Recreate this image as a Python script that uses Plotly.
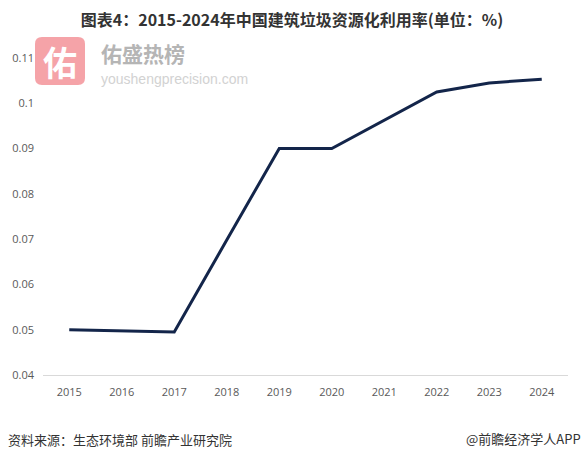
import plotly.graph_objects as go

years = ["2015", "2016", "2017", "2018", "2019", "2020", "2021", "2022", "2023", "2024"]
rates = [0.0500, 0.0498, 0.0495, 0.0698, 0.0900, 0.0900, 0.0962, 0.1025, 0.1045, 0.1053]
y_tickvals = [0.04, 0.05, 0.06, 0.07, 0.08, 0.09, 0.10, 0.11]
y_ticktext = ["0.04", "0.05", "0.06", "0.07", "0.08", "0.09", "0.1", "0.11"]

W, H = 584, 459
L, R, T, B = 43, 16, 58, 84
PW, PH = W - L - R, H - T - B

def px(x):
    return (x - L) / PW

def py(y):
    return (H - B - y) / PH

fig = go.Figure()
fig.add_trace(go.Scatter(
    x=years, y=rates, mode="lines",
    line=dict(color="#13254a", width=3),
    hoverinfo="x+y", showlegend=False,
))

# watermark logo (rounded square)
x0, x1, y0, y1, r = 35, 85, 37, 85, 7
path = (f"M {px(x0+r)},{py(y0)} L {px(x1-r)},{py(y0)} Q {px(x1)},{py(y0)} {px(x1)},{py(y0+r)} "
        f"L {px(x1)},{py(y1-r)} Q {px(x1)},{py(y1)} {px(x1-r)},{py(y1)} "
        f"L {px(x0+r)},{py(y1)} Q {px(x0)},{py(y1)} {px(x0)},{py(y1-r)} "
        f"L {px(x0)},{py(y0+r)} Q {px(x0)},{py(y0)} {px(x0+r)},{py(y0)} Z")
fig.add_shape(type="path", path=path, xref="paper", yref="paper",
              fillcolor="#f5a3a8", line=dict(width=0), layer="above")

annotations = [
    dict(text="<b>佑</b>", x=px(60), y=py(61), xref="paper", yref="paper",
         showarrow=False, font=dict(family="Noto Sans CJK SC", size=34, color="white"),
         xanchor="center", yanchor="middle"),
    dict(text="<b>佑盛热榜</b>", x=px(99), y=py(53), xref="paper", yref="paper",
         showarrow=False, font=dict(family="Noto Sans CJK SC", size=21, color="#b5b5b5"),
         xanchor="left", yanchor="middle"),
    dict(text="youshengprecision.com", x=px(99), y=py(79), xref="paper", yref="paper",
         showarrow=False, font=dict(family="Liberation Sans", size=14, color="#d2d2d2"),
         xanchor="left", yanchor="middle"),
    dict(text="资料来源：生态环境部 前瞻产业研究院", x=px(6), y=py(439), xref="paper", yref="paper",
         showarrow=False, font=dict(family="Noto Sans CJK SC", size=13, color="#333333"),
         xanchor="left", yanchor="middle"),
    dict(text="@前瞻经济学人APP", x=px(583), y=py(438), xref="paper", yref="paper",
         showarrow=False, font=dict(family="Noto Sans CJK SC", size=13, color="#333333"),
         xanchor="right", yanchor="middle"),
]

fig.update_layout(
    width=W, height=H,
    margin=dict(l=L, r=R, t=T, b=B),
    paper_bgcolor="white", plot_bgcolor="white",
    title=dict(text="<b>图表4：2015-2024年中国建筑垃圾资源化利用率(单位：%)</b>",
               x=0.5, xref="container", xanchor="center",
               y=1 - 20 / H, yref="container", yanchor="middle",
               font=dict(family="Noto Sans CJK SC", size=16, color="#333333")),
    xaxis=dict(type="category", range=[-0.5, 9.5], showgrid=False, zeroline=False,
               showline=True, linecolor="#d9d9d9", linewidth=1, ticks="",
               tickfont=dict(family="Open Sans", size=11, color="#595959"),
               ticklabelstandoff=7),
    yaxis=dict(range=[0.04, 0.11], tickvals=y_tickvals, ticktext=y_ticktext,
               showgrid=False, zeroline=False, showline=False, ticks="",
               tickfont=dict(family="Open Sans", size=11, color="#595959"),
               ticklabelstandoff=8),
    annotations=annotations,
)

fig.write_html("out.html", config={"displayModeBar": False},
               post_script="document.body.style.margin='0';")
